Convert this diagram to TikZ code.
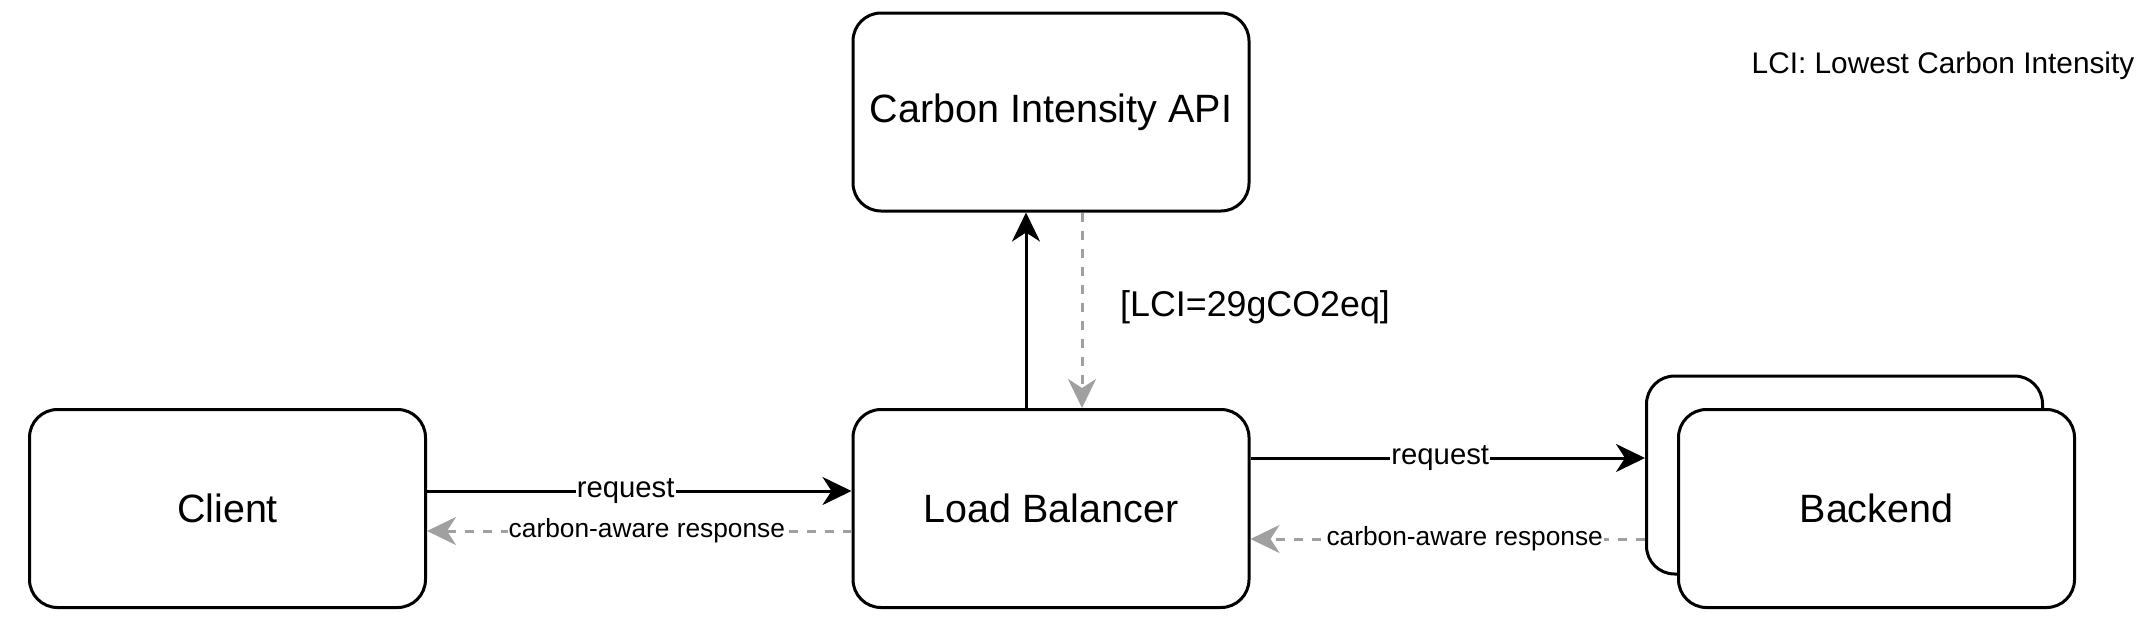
\documentclass[tikz,border=0pt]{standalone}
\usepackage{fontspec}
\setmainfont{Liberation Sans}
\usetikzlibrary{arrows.meta}
\definecolor{dgrey}{RGB}{160,160,160}
\begin{document}
\begin{tikzpicture}[x=1pt,y=-1pt,
  rbox/.style={draw=black, line width=3pt, rounded corners=28pt, fill=white,
    minimum width=396pt, minimum height=198pt, inner sep=0pt,
    font=\fontsize{39.5}{47}\selectfont},
  solidarrow/.style={line width=3pt, black, -{Stealth[length=29pt,width=28pt,inset=9pt]}},
  dasharrow/.style={line width=3pt, dgrey, dash pattern=on 9pt off 9pt,
    -{Stealth[length=29pt,width=28pt,inset=9pt]}},
  reqlabel/.style={fill=white, text=black, inner sep=1pt, font=\fontsize{29.3}{35}\selectfont},
  resplabel/.style={fill=white, text=black, inner sep=1pt, font=\fontsize{26.3}{31}\selectfont}
]
\fill[white] (0,0) rectangle (2144,630);
\useasboundingbox (0,0) rectangle (2144,630);

\node[rbox] (api) at (1051,112) {Carbon Intensity API};
\node[rbox] (client) at (227.5,508.5) {Client};
\node[rbox] (lb) at (1051,508.5) {Load Balancer};
\node[rbox] (back2) at (1844.5,475) {};
\node[rbox] (backend) at (1876.5,508.5) {Backend};

\node[inner sep=0pt, anchor=west, font=\fontsize{35.8}{43}\selectfont] (lci) at (1120,307) {[LCI=29gCO2eq]};
\node[inner sep=0pt, font=\fontsize{29.8}{36}\selectfont] (note) at (1943,66) {LCI: Lowest Carbon Intensity};

\draw[solidarrow] (client.east |- 0,491) -- (lb.west |- 0,491)
  node[reqlabel, pos=0.468] {request};
\draw[dasharrow] (lb.west |- 0,531) -- (client.east |- 0,531)
  node[resplabel, pos=0.482] {carbon-aware response};

\draw[solidarrow] (lb.north -| 1026,0) -- (api.south -| 1026,0);
\draw[dasharrow] (api.south -| 1082,0) -- (lb.north -| 1082,0);

\draw[solidarrow] (lb.east |- 0,458) -- (back2.west |- 0,458)
  node[reqlabel, pos=0.481] {request};
\draw[dasharrow] (back2.west |- 0,539) -- (lb.east |- 0,539)
  node[resplabel, pos=0.457] {carbon-aware response};
\end{tikzpicture}
\end{document}
